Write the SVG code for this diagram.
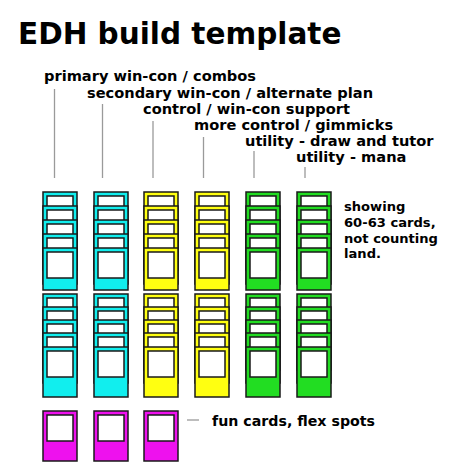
<svg xmlns="http://www.w3.org/2000/svg" xmlns:xlink="http://www.w3.org/1999/xlink" width="474" height="474" viewBox="0 0 474 474">
<style>
text{font-family:"DejaVu Sans","Noto Sans",sans-serif;font-weight:bold;fill:#000}
.lbl{font-size:14.6px}
.note{font-size:13.1px}
.title{font-size:29.5px}
.ld{stroke:#9a9a9a;stroke-width:1.3;fill:none}
.o{stroke:#1a1a1a;stroke-width:1.5}
.w{fill:#fff;stroke:#1a1a1a;stroke-width:1.5}
</style>
<defs>
<g id="card"><rect class="o" x="0" y="0" width="34" height="50"/><rect class="w" x="4" y="4" width="26" height="26"/></g>
<g id="cardS"><rect class="o" x="0" y="0" width="34" height="42"/><rect class="w" x="4" y="4" width="26" height="26"/></g>
<g id="stack">
<use href="#card" y="192"/><use href="#card" y="206"/><use href="#card" y="220"/><use href="#card" y="234"/><use href="#cardS" y="248"/>
<use href="#card" y="294"/><use href="#card" y="307"/><use href="#card" y="320"/><use href="#card" y="333"/><use href="#card" y="347"/>
</g>
</defs>
<rect width="474" height="474" fill="#fff"/>
<text class="title" x="18" y="44">EDH build template</text>
<g id="connectors">
<line class="ld" x1="54.5" y1="89" x2="54.5" y2="178"/>
<line class="ld" x1="102.5" y1="104" x2="102.5" y2="178"/>
<line class="ld" x1="153" y1="121" x2="153" y2="178"/>
<line class="ld" x1="203.5" y1="137" x2="203.5" y2="178"/>
<line class="ld" x1="254" y1="151" x2="254" y2="178"/>
<line class="ld" x1="305" y1="167" x2="305" y2="178"/>
<line class="ld" x1="187" y1="420" x2="199" y2="420"/>
</g>
<g id="labels">
<text class="lbl" x="44" y="81">primary win-con / combos</text>
<text class="lbl" x="87" y="97.5">secondary win-con / alternate plan</text>
<text class="lbl" x="143" y="114">control / win-con support</text>
<text class="lbl" x="194" y="130">more control / gimmicks</text>
<text class="lbl" x="245" y="146">utility - draw and tutor</text>
<text class="lbl" x="296" y="162">utility - mana</text>
</g>
<g id="col1" fill="#11eeee" transform="translate(43,0)"><use href="#stack"/></g>
<g id="col2" fill="#11eeee" transform="translate(94,0)"><use href="#stack"/></g>
<g id="col3" fill="#ffff11" transform="translate(144,0)"><use href="#stack"/></g>
<g id="col4" fill="#ffff11" transform="translate(195,0)"><use href="#stack"/></g>
<g id="col5" fill="#22dd22" transform="translate(246,0)"><use href="#stack"/></g>
<g id="col6" fill="#22dd22" transform="translate(297,0)"><use href="#stack"/></g>
<g id="note">
<text class="note" x="344" y="210.5">showing</text>
<text class="note" x="344" y="226.5">60-63 cards,</text>
<text class="note" x="344" y="242.5">not counting</text>
<text class="note" x="344" y="258">land.</text>
</g>
<g id="fun" fill="#ee11ee">
<use href="#card" x="43" y="411"/>
<use href="#card" x="94" y="411"/>
<use href="#card" x="144" y="411"/>
</g>
<text id="funlabel" style="font-size:14.2px" x="212" y="426">fun cards, flex spots</text>
</svg>
